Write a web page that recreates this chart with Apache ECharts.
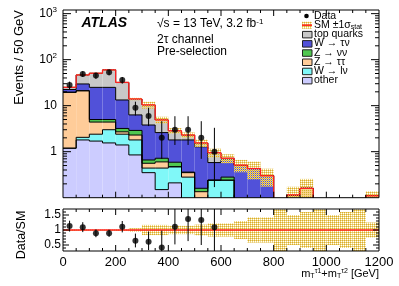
<!DOCTYPE html>
<html><head><meta charset="utf-8">
<script src="https://cdn.jsdelivr.net/npm/echarts@6/dist/echarts.min.js"></script>
<style>html,body{margin:0;padding:0;background:#fff}#c{width:399px;height:286px}</style>
</head><body><div id="c"></div>
<script>
// ---------------- data ----------------
const binEdges = [0,50,100,150,200,250,300,350,400,450,500,550,600,650,700,750,800,850,900,950,1000,1050,1100,1150,1200];
const otherVals = [1.19,1.8,1.7,1.55,1.4,0.85,0.35,0.15,0.21,0,0,0,0,0,0,0,0,0,0,0,0,0,0,0];
const wlvVals   = [0,0.25,0.7,1.45,1.0,0.95,0.09,0.29,0.26,0.28,0,0.24,0.24,0,0,0,0,0,0,0,0,0,0,0];
const zttVals   = [18.3,19.0,2.0,1.4,0.3,0.5,0.12,0.16,0,0.07,0.135,0,0,0,0,0,0,0.115,0.16,0,0,0,0,0.11];
const znnVals   = [0.1,0.1,0.6,0.6,0.5,0.6,0.1,0.12,0.12,0.01,0.025,0,0.04,0,0,0,0,0,0,0,0,0,0,0];
const wtvVals   = [2.9,8.5,20.0,20.0,10.1,3.4,3.14,1.88,1.21,1.44,1.12,0.34,0.38,0.51,0.43,0.30,0,0,0,0,0,0,0,0];
const topVals   = [2.5,16.9,25.6,35.0,18.7,7.7,6.6,2.3,1.05,0.5,0.27,0.37,0.06,0,0,0,0,0,0,0,0,0,0,0];
const smRelErr  = [0.03,0.025,0.025,0.025,0.03,0.06,0.17,0.17,0.14,0.14,0.18,0.22,0.22,0.3,0.42,0.42,1.0,0.5,0.6,1.0,0.5,0.6,1.0,0.25];
const dataVals  = [28,49,45,53,36,9,6,2,3,3,2,1];
const dataHi    = [33.3,56.0,51.7,60.3,42.0,12.2,9.0,4.6,5.9,5.9,4.6,3.3];
const dataLo    = [22.7,42.0,38.3,45.7,30.0,6.1,3.6,0.7,1.4,1.4,0.7,0.17];
const ratioVals = [1.13,1.09,0.89,0.89,1.11,0.64,0.61,0.42,1.11,1.37,1.33,1.09];
const ratioHi   = [1.31,1.26,1.02,1.01,1.30,0.88,0.95,0.98,2.3,2.6,3.0,3.6];
const ratioLo   = [0.95,0.93,0.76,0.77,0.92,0.42,0.33,0.1,0.52,0.63,0.5,0.1];
const mainYTickLabels = [1,10,100,1000];
const ratioYTickLabels = [0.5,1,1.5];

const FONT = '"Liberation Sans", Arial, Helvetica, sans-serif';
const components = [
  {name:'other',      color:'#ccccff', vals: otherVals},
  {name:'W → lν',     color:'#80f8f8', vals: wlvVals},
  {name:'Z → ττ',     color:'#ffcc99', vals: zttVals},
  {name:'Z → νν',     color:'#50c850', vals: znnVals},
  {name:'W → τν',     color:'#5151d9', vals: wtvVals},
  {name:'top quarks', color:'#c8c8c8', vals: topVals}
];
const nb = binEdges.length - 1;
const YMIN = 0.1;

// hatch pattern
function makePattern(){
  const c = document.createElement('canvas'); c.width = 2; c.height = 2;
  const g = c.getContext('2d');
  g.fillStyle = '#d8aa30'; g.fillRect(0,0,1,1);
  g.fillStyle = '#f0d87c'; g.fillRect(1,0,1,1); g.fillRect(0,1,1,1);
  return c;
}
const hatch = {image: makePattern(), repeat: 'repeat'};

function clampY(cs, y){ return Math.min(Math.max(y, cs.y), cs.y + cs.height); }

// ---------------- series ----------------
const series = [];
let cum = new Array(nb).fill(0);
components.forEach(c => {
  const base = cum.slice();
  cum = cum.map((v,i) => v + c.vals[i]);
  const top = cum.slice();
  const data = top.map((t,i) => [binEdges[i], binEdges[i+1], base[i], t, i>0 ? top[i-1] : 0]);
  series.push({
    type:'custom', name:c.name, xAxisIndex:0, yAxisIndex:0, z:2,
    encode:{x:[0,1], y:[3]}, data,
    renderItem(params, api){
      const cs = params.coordSys;
      const x0 = api.value(0), x1 = api.value(1), b = api.value(2), t = api.value(3), pt = api.value(4);
      const X = v => api.coord([v, 1])[0];
      const Y = v => api.coord([x0, Math.max(v, YMIN*0.5)])[1];
      const xa = X(x0), xb = X(x1);
      const yt = clampY(cs, Y(t)), yb = clampY(cs, Y(b)), yp = clampY(cs, Y(pt));
      const ch = [];
      if (yb - yt > 0.01) ch.push({type:'rect', z2:0, shape:{x:xa, y:yt, width:xb-xa, height:yb-yt}, style:{fill:c.color}});
      if (t > YMIN) ch.push({type:'line', z2:10, shape:{x1:xa, y1:yt, x2:xb, y2:yt}, style:{stroke:'#000', lineWidth:1}});
      if (x0 > 0 && Math.abs(yp - yt) > 0.01) ch.push({type:'line', z2:10, shape:{x1:xa, y1:yp, x2:xa, y2:yt}, style:{stroke:'#000', lineWidth:1}});
      return {type:'group', children:ch};
    }
  });
});
const total = cum;

// SM band (main)
series.push({
  type:'custom', name:'SM band', xAxisIndex:0, yAxisIndex:0, z:3,
  encode:{x:[0,1], y:[2]},
  data: total.map((t,i) => [binEdges[i], binEdges[i+1], t, smRelErr[i]]),
  renderItem(params, api){
    const cs = params.coordSys;
    const t = api.value(2), e = api.value(3);
    if (!(t > 0)) return null;
    const xa = api.coord([api.value(0), 1])[0], xb = api.coord([api.value(1), 1])[0];
    const y1 = clampY(cs, api.coord([0, t*(1+e)])[1]);
    const y2 = clampY(cs, api.coord([0, Math.max(t*(1-e), YMIN*0.5)])[1]);
    if (y2 - y1 <= 0) return null;
    return {type:'rect', shape:{x:xa, y:y1, width:xb-xa, height:y2-y1}, style:{fill:hatch}};
  }
});
// SM red line (main)
series.push({
  type:'custom', name:'SM line', xAxisIndex:0, yAxisIndex:0, z:4,
  encode:{x:[0,1], y:[2]},
  data: total.map((t,i) => [binEdges[i], binEdges[i+1], t, i>0 ? total[i-1] : 0]),
  renderItem(params, api){
    const cs = params.coordSys;
    const x0 = api.value(0), t = api.value(2), pt = api.value(3);
    const xa = api.coord([x0, 1])[0], xb = api.coord([api.value(1), 1])[0];
    const Y = v => clampY(cs, api.coord([0, Math.max(v, YMIN*0.5)])[1]);
    const yt = Y(t), yp = Y(pt);
    const ch = [];
    if (t > YMIN) ch.push({type:'line', shape:{x1:xa, y1:yt, x2:xb, y2:yt}, style:{stroke:'#ff2020', lineWidth:1.3}});
    if (x0 > 0 && Math.abs(yp-yt) > 0.01) ch.push({type:'line', shape:{x1:xa, y1:yp, x2:xa, y2:yt}, style:{stroke:'#ff2020', lineWidth:1.3}});
    return {type:'group', children:ch};
  }
});
// data error bars + points (main)
const centers = dataVals.map((v,i) => (binEdges[i] + binEdges[i+1]) / 2);
function errBarSeries(xi, yi, vals, lo, hi){
  return {
    type:'custom', xAxisIndex:xi, yAxisIndex:yi, z:5,
    encode:{x:0, y:1},
    data: vals.map((v,i) => [centers[i], v, lo[i], hi[i]]),
    renderItem(params, api){
      const cs = params.coordSys;
      const x = api.coord([api.value(0), api.value(1)])[0];
      const ya = clampY(cs, api.coord([api.value(0), api.value(3)])[1]);
      const yb = clampY(cs, api.coord([api.value(0), Math.max(api.value(2), 1e-3)])[1]);
      return {type:'line', shape:{x1:x, y1:ya, x2:x, y2:yb}, style:{stroke:'#000', lineWidth:1}};
    }
  };
}
series.push(errBarSeries(0, 0, dataVals, dataLo, dataHi));
series.push({type:'scatter', xAxisIndex:0, yAxisIndex:0, z:6, symbol:'circle', symbolSize:6,
  itemStyle:{color:'#000'}, data: dataVals.map((v,i) => [centers[i], v])});

// ratio band + line at 1
series.push({
  type:'custom', name:'ratio band', xAxisIndex:1, yAxisIndex:1, z:3,
  encode:{x:[0,1], y:[2]},
  data: smRelErr.map((e,i) => [binEdges[i], binEdges[i+1], 1, e]),
  renderItem(params, api){
    const cs = params.coordSys;
    const e = api.value(3);
    const xa = api.coord([api.value(0), 1])[0], xb = api.coord([api.value(1), 1])[0];
    const y1 = clampY(cs, api.coord([0, 1+e])[1]);
    const y2 = clampY(cs, api.coord([0, 1-e])[1]);
    return {type:'rect', shape:{x:xa, y:y1, width:xb-xa, height:y2-y1}, style:{fill:hatch}};
  },
  markLine:{silent:true, symbol:'none', animation:false, label:{show:false},
    lineStyle:{color:'#ff2020', width:1.5, type:'solid'}, data:[{yAxis:1}]}
});
series.push(errBarSeries(1, 1, ratioVals, ratioLo, ratioHi));
series.push({type:'scatter', xAxisIndex:1, yAxisIndex:1, z:6, symbol:'circle', symbolSize:6,
  itemStyle:{color:'#000'}, data: ratioVals.map((v,i) => [centers[i], v])});

// ticks + frames
function tickSeries(xi, yi, ticks){
  return {
    type:'custom', xAxisIndex:xi, yAxisIndex:yi, z:10, silent:true,
    encode:{x:0, y:1}, data: ticks,
    renderItem(params, api){
      const cs = params.coordSys;
      const kind = api.value(0), v = api.value(1), len = api.value(2);
      const st = {stroke:'#000', lineWidth:1};
      if (kind === 2) return {type:'rect', shape:{x:cs.x, y:cs.y, width:cs.width, height:cs.height}, style:{fill:null, stroke:'#000', lineWidth:1}};
      if (kind === 0) {
        const x = api.coord([v, 1])[0];
        return {type:'group', children:[
          {type:'line', shape:{x1:x, y1:cs.y+cs.height, x2:x, y2:cs.y+cs.height-len}, style:st},
          {type:'line', shape:{x1:x, y1:cs.y, x2:x, y2:cs.y+len}, style:st}]};
      }
      const y = api.coord([0, v])[1];
      return {type:'group', children:[
        {type:'line', shape:{x1:cs.x, y1:y, x2:cs.x+len, y2:y}, style:st},
        {type:'line', shape:{x1:cs.x+cs.width, y1:y, x2:cs.x+cs.width-len, y2:y}, style:st}]};
    }
  };
}
const xTicks = [];
for (let v = 50; v < 1200; v += 50) xTicks.push([0, v, v % 200 === 0 ? 6 : 3]);
const mainTicks = [[2, 1, 0]].concat(xTicks);
for (let k = -1; k <= 3; k++) for (let m = 1; m <= 9; m++) {
  const v = m * Math.pow(10, k);
  if (v > YMIN && v < 1200) mainTicks.push([1, v, m === 1 ? 8 : 4]);
}
const ratioTicks = [[2, 1, 0]].concat(xTicks);
for (let j = 4; j <= 16; j++) {
  const v = j / 10;
  ratioTicks.push([1, v, (j % 5 === 0) ? 6 : 3]);
}
series.push(tickSeries(0, 0, mainTicks));
series.push(tickSeries(1, 1, ratioTicks));

// ---------------- legend & texts (graphic) ----------------
const legendRows = [
  {label:'Data', kind:'dot'},
  {label:'SM ±1σ{sub|stat}', kind:'band'},
  {label:'top quarks', color:'#c8c8c8'},
  {label:'W → τν', color:'#5151d9'},
  {label:'Z → νν', color:'#50c850'},
  {label:'Z → ττ', color:'#ffcc99'},
  {label:'W → lν', color:'#80f8f8'},
  {label:'other', color:'#ccccff'}
];
const graphic = [];
legendRows.forEach((r, i) => {
  const y = 16 + 9.2 * i;
  if (r.kind === 'dot') graphic.push({type:'circle', shape:{cx:306.5, cy:y, r:2.3}, style:{fill:'#000'}});
  else if (r.kind === 'band') {
    graphic.push({type:'rect', shape:{x:302, y:y-3.5, width:10, height:7}, style:{fill:hatch}});
    graphic.push({type:'line', shape:{x1:302, y1:y, x2:312, y2:y}, style:{stroke:'#ff2020', lineWidth:1.5}});
  } else graphic.push({type:'rect', shape:{x:302.5, y:y-3, width:9.5, height:6.5}, style:{fill:r.color, stroke:'#222', lineWidth:1}});
  graphic.push({type:'text', x:314, y:y, style:{text:r.label, fontFamily:FONT, fontSize:10.5, fill:'#000', verticalAlign:'middle',
    rich:{sub:{fontSize:7, fontFamily:FONT, verticalAlign:'bottom', lineHeight:7, padding:[4,0,0,0]}}}});
});
graphic.push({type:'text', x:81.5, y:23.5, style:{text:'ATLAS', fontFamily:FONT, fontSize:14, fontWeight:'bold', fontStyle:'italic', fill:'#000', verticalAlign:'middle'}});
graphic.push({type:'text', x:157, y:23.5, style:{text:'√s = 13 TeV, 3.2 fb{sup|-1}', fontFamily:FONT, fontSize:12, fill:'#000', verticalAlign:'middle',
  rich:{sup:{fontSize:8, fontFamily:FONT, verticalAlign:'top', lineHeight:8, padding:[0,0,6,0]}}}});
graphic.push({type:'text', x:157, y:39.5, style:{text:'2τ channel', fontFamily:FONT, fontSize:12, fill:'#000', verticalAlign:'middle'}});
graphic.push({type:'text', x:157, y:52, style:{text:'Pre-selection', fontFamily:FONT, fontSize:12, fill:'#000', verticalAlign:'middle'}});
graphic.push({type:'text', x:19, y:10, rotation:Math.PI/2, style:{text:'Events / 50 GeV', fontFamily:FONT, fontSize:13, fill:'#000', align:'right', verticalAlign:'middle'}});
graphic.push({type:'text', x:22, y:235, rotation:Math.PI/2, style:{text:'Data/SM', fontFamily:FONT, fontSize:12.5, fill:'#000', align:'center', verticalAlign:'middle'}});
graphic.push({type:'text', x:379, y:274, style:{text:'m{sub|T}{sup|τ1}+m{sub|T}{sup|τ2} [GeV]', fontFamily:FONT, fontSize:11, fill:'#000', align:'right', verticalAlign:'middle',
  rich:{sub:{fontSize:7, fontFamily:FONT, padding:[5,0,0,0]}, sup:{fontSize:7, fontFamily:FONT, padding:[0,0,6,0]}}}});

// ---------------- option ----------------
const hiddenAxis = {axisLine:{show:false}, axisTick:{show:false}, splitLine:{show:false}};
const option = {
  animation:false,
  backgroundColor:'#fff',
  textStyle:{fontFamily:FONT},
  grid:[
    {left:63, top:10, width:316, height:187.7, outerBoundsMode:'none', containLabel:false},
    {left:63, top:209, width:316, height:42, outerBoundsMode:'none', containLabel:false}
  ],
  xAxis:[
    Object.assign({gridIndex:0, type:'value', min:0, max:1200, interval:200, axisLabel:{show:false}}, hiddenAxis),
    Object.assign({gridIndex:1, type:'value', min:0, max:1200, interval:200,
      axisLabel:{show:true, fontSize:13, color:'#000', margin:5, fontFamily:FONT, showMinLabel:true, showMaxLabel:true,
        formatter: v => String(v)}}, hiddenAxis)
  ],
  yAxis:[
    Object.assign({gridIndex:0, type:'log', logBase:10, min:YMIN, max:1200,
      axisLabel:{show:true, color:'#000', fontSize:12, margin:6, fontFamily:FONT,
        formatter: v => {
          const m = mainYTickLabels.find(t => Math.abs(t - v) / t < 1e-6);
          if (m === undefined) return '';
          if (m >= 100) return '{b|10}{s|' + Math.round(Math.log10(m)) + '}';
          return '{b|' + m + '}';
        },
        rich:{b:{fontSize:12, fontFamily:FONT, color:'#000', lineHeight:16}, s:{fontSize:8, fontFamily:FONT, color:'#000', verticalAlign:'top', lineHeight:8}}}}, hiddenAxis),
    Object.assign({gridIndex:1, type:'value', min:0.3, max:1.7, interval:0.1,
      axisLabel:{show:true, color:'#000', fontSize:12, margin:2, fontFamily:FONT,
        formatter: v => {
          const m = ratioYTickLabels.find(t => Math.abs(t - v) < 1e-6);
          return m === undefined ? '' : String(m);
        }}}, hiddenAxis)
  ],
  graphic,
  series
};
const chart = echarts.init(document.getElementById('c'), null, {renderer:'canvas'});
chart.setOption(option);
</script>
</body></html>
